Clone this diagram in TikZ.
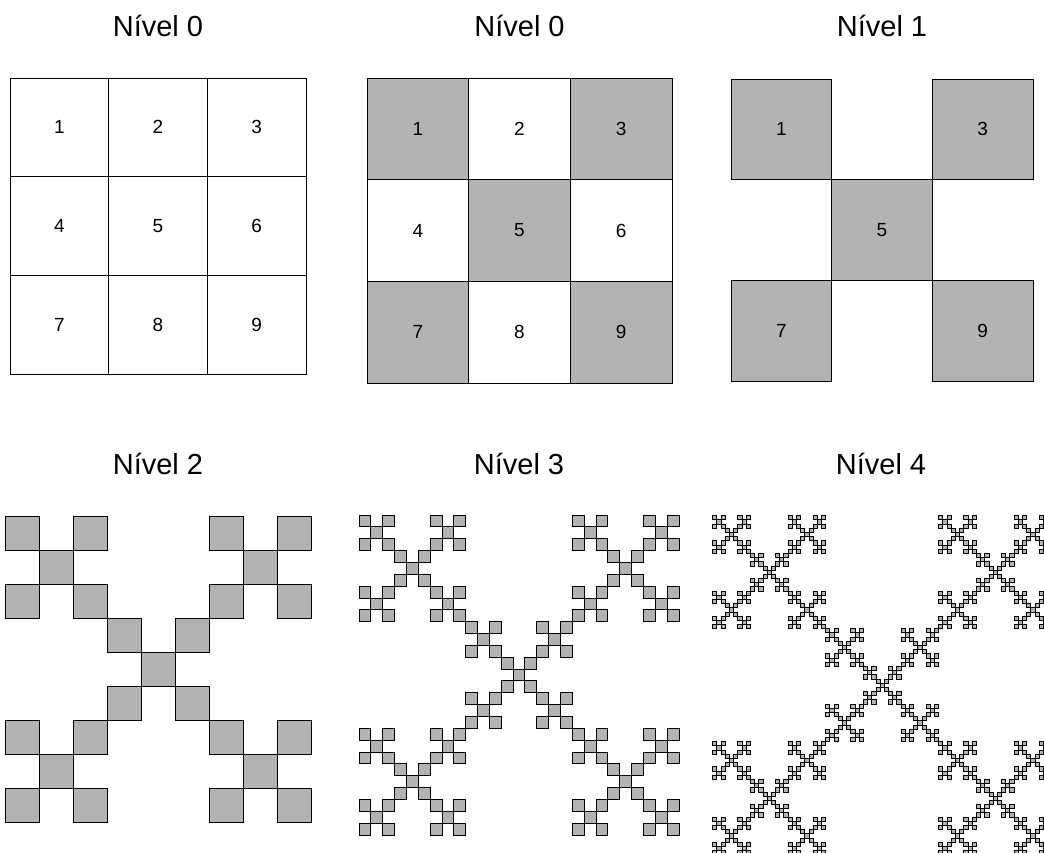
\documentclass[tikz,border=0pt]{standalone}
\usepackage{fontspec}
\setmainfont{Liberation Sans}
\definecolor{cellgray}{RGB}{179,179,179}
\tikzset{
  title/.style={anchor=base, font=\fontsize{29}{34}\selectfont},
  num/.style={font=\fontsize{19}{22}\selectfont},
  cellw/.style={draw=black, fill=white, line width=1pt},
  cellg/.style={draw=black, fill=cellgray, line width=1pt},
  fract/.style={draw=black, fill=cellgray, line width=#1},
}
\begin{document}
\begin{tikzpicture}[x=1pt,y=-1pt]
\clip (0,0) rectangle (1044,852);
\fill[white] (0,0) rectangle (1044,852);
% titles
\node[title] (t0a) at (158,36.7) {Nível 0};
\node[title] (t0b) at (519.5,36.7) {Nível 0};
\node[title] (t1) at (882,36.7) {Nível 1};
\node[title] (t2) at (158,474) {Nível 2};
\node[title] (t3) at (519,474) {Nível 3};
\node[title] (t4) at (881,474) {Nível 4};
% panel 1: plain 3x3 grid
\def\s{98.67}
\foreach \r in {0,1,2}
  \foreach \c in {0,1,2} {
    \pgfmathtruncatemacro{\k}{3*\r+\c+1}
    \draw[cellw] (10+\c*\s,78+\r*\s) rectangle ++(\s,\s);
    \node[num] (pa\k) at (10+\c*\s+\s/2,78+\r*\s+\s/2) {\k};
  }
% panel 2: checkerboard
\def\s{101.67}
\foreach \r in {0,1,2}
  \foreach \c in {0,1,2} {
    \pgfmathtruncatemacro{\k}{3*\r+\c+1}
    \pgfmathtruncatemacro{\odd}{mod(\k,2)}
    \ifnum\odd=1
      \draw[cellg] (367+\c*\s,78+\r*\s) rectangle ++(\s,\s);
    \else
      \draw[cellw] (367+\c*\s,78+\r*\s) rectangle ++(\s,\s);
    \fi
    \node[num] (pb\k) at (367+\c*\s+\s/2,78+\r*\s+\s/2) {\k};
  }
% panel 3: level 1
\def\s{100.67}
\foreach \c/\r/\k in {0/0/1,2/0/3,1/1/5,0/2/7,2/2/9} {
  \draw[cellg] (731+\c*\s,79+\r*\s) rectangle ++(\s,\s);
  \node[num] (pc\k) at (731+\c*\s+\s/2,79+\r*\s+\s/2) {\k};
}
% panel 4: level 2
\def\s{34}
\foreach \a/\b in {0/0,2/0,1/1,0/2,2/2}
  \foreach \c/\d in {0/0,2/0,1/1,0/2,2/2}
    \draw[fract=0.9pt] (5+3*\a*\s+\c*\s,516+3*\b*\s+\d*\s) rectangle ++(\s,\s);
% panel 5: level 3
\def\s{11.85}
\foreach \a/\b in {0/0,2/0,1/1,0/2,2/2}
  \foreach \c/\d in {0/0,2/0,1/1,0/2,2/2}
    \foreach \e/\f in {0/0,2/0,1/1,0/2,2/2}
      \draw[fract=0.9pt] (359+9*\a*\s+3*\c*\s+\e*\s,515+9*\b*\s+3*\d*\s+\f*\s) rectangle ++(\s,\s);
% panel 6: level 4
\def\s{4.185}
\foreach \a/\b in {0/0,2/0,1/1,0/2,2/2}
  \foreach \c/\d in {0/0,2/0,1/1,0/2,2/2}
    \foreach \e/\f in {0/0,2/0,1/1,0/2,2/2}
      \foreach \g/\h in {0/0,2/0,1/1,0/2,2/2}
        \draw[fract=0.8pt] (712.7+27*\a*\s+9*\c*\s+3*\e*\s+\g*\s,515.7+27*\b*\s+9*\d*\s+3*\f*\s+\h*\s) rectangle ++(\s,\s);
\end{tikzpicture}
\end{document}
